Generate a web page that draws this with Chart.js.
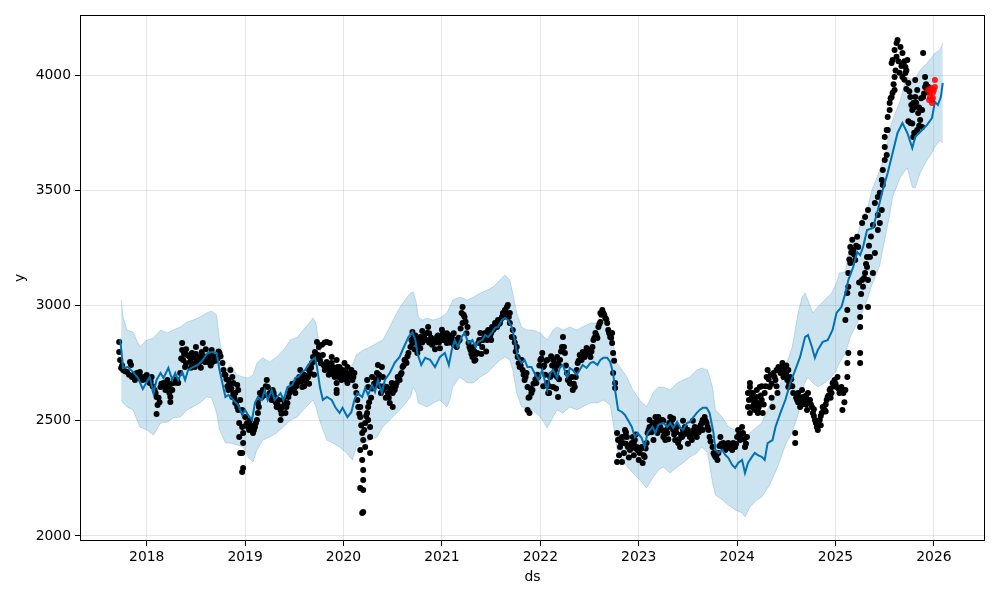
<!DOCTYPE html>
<html>
<head>
<meta charset="utf-8">
<script src="https://cdn.jsdelivr.net/npm/chart.js@4.4.0/dist/chart.umd.min.js"></script>
<style>
  html, body { margin: 0; padding: 0; background: #fff; }
  #wrap { width: 1000px; height: 600px; }
</style>
</head>
<body>
<div id="wrap"><canvas id="forecast" width="1000" height="600"></canvas></div>
<script>
const xTicks = [2018, 2019, 2020, 2021, 2022, 2023, 2024, 2025, 2026];
const yTicks = [2000, 2500, 3000, 3500, 4000];

// yhat
const fcYear = [
  2017.73, 2017.76, 2017.81, 2017.86, 2017.91, 2017.96, 2018.00, 2018.03, 2018.07, 2018.10,
  2018.14, 2018.17, 2018.22, 2018.26, 2018.29, 2018.32, 2018.36, 2018.39, 2018.42, 2018.47,
  2018.52, 2018.57, 2018.62, 2018.67, 2018.71, 2018.74, 2018.80, 2018.83, 2018.88, 2018.93,
  2018.97, 2019.00, 2019.03, 2019.07, 2019.10, 2019.13, 2019.17, 2019.20, 2019.23, 2019.27,
  2019.30, 2019.36, 2019.39, 2019.43, 2019.48, 2019.51, 2019.54, 2019.58, 2019.61, 2019.64,
  2019.68, 2019.71, 2019.73, 2019.76, 2019.79, 2019.83, 2019.88, 2019.92, 2019.96, 2019.99,
  2020.04, 2020.08, 2020.11, 2020.14, 2020.19, 2020.22, 2020.25, 2020.29, 2020.32, 2020.35,
  2020.39, 2020.42, 2020.47, 2020.52, 2020.57, 2020.60, 2020.66, 2020.70, 2020.73, 2020.75,
  2020.79, 2020.83, 2020.88, 2020.93, 2020.98, 2021.03, 2021.07, 2021.10, 2021.13, 2021.16,
  2021.20, 2021.23, 2021.27, 2021.31, 2021.34, 2021.37, 2021.41, 2021.44, 2021.47, 2021.51,
  2021.54, 2021.57, 2021.61, 2021.64, 2021.67, 2021.71, 2021.74, 2021.77, 2021.81, 2021.84,
  2021.87, 2021.91, 2021.94, 2021.98, 2022.02, 2022.05, 2022.07, 2022.10, 2022.13, 2022.17,
  2022.20, 2022.23, 2022.27, 2022.30, 2022.33, 2022.37, 2022.40, 2022.43, 2022.47, 2022.51,
  2022.54, 2022.58, 2022.61, 2022.64, 2022.68, 2022.71, 2022.74, 2022.76, 2022.79, 2022.83,
  2022.86, 2022.89, 2022.93, 2022.96, 2022.99, 2023.03, 2023.06, 2023.09, 2023.14, 2023.17,
  2023.20, 2023.25, 2023.29, 2023.32, 2023.35, 2023.39, 2023.42, 2023.45, 2023.49, 2023.52,
  2023.55, 2023.59, 2023.62, 2023.65, 2023.69, 2023.72, 2023.76, 2023.78, 2023.81, 2023.85,
  2023.88, 2023.91, 2023.95, 2023.98, 2024.01, 2024.05, 2024.08, 2024.11, 2024.15, 2024.18,
  2024.21, 2024.25, 2024.28, 2024.31, 2024.36, 2024.39, 2024.44, 2024.49, 2024.54, 2024.59,
  2024.64, 2024.69, 2024.72, 2024.76, 2024.79, 2024.82, 2024.87, 2024.92, 2024.97, 2025.01,
  2025.06, 2025.10, 2025.13, 2025.15, 2025.18, 2025.22, 2025.25, 2025.28, 2025.32, 2025.38,
  2025.43, 2025.48, 2025.53, 2025.58, 2025.63, 2025.68, 2025.73, 2025.78, 2025.81, 2025.88,
  2025.93, 2025.98, 2026.01, 2026.04, 2026.07, 2026.09
];
const fcVal = [
  2855, 2729, 2733, 2712, 2686, 2638, 2668, 2690, 2620, 2677,
  2707, 2686, 2729, 2677, 2707, 2677, 2712, 2677, 2720, 2733,
  2742, 2764, 2794, 2798, 2794, 2720, 2603, 2612, 2590, 2568,
  2525, 2547, 2525, 2503, 2577, 2603, 2590, 2633, 2590, 2633,
  2590, 2620, 2590, 2646, 2655, 2686, 2690, 2712, 2720, 2742,
  2764, 2773, 2733, 2646, 2590, 2603, 2590, 2556, 2534, 2556,
  2516, 2538, 2590, 2620, 2603, 2642, 2612, 2655, 2625, 2677,
  2620, 2677, 2707, 2751, 2777, 2807, 2863, 2885, 2850, 2794,
  2742, 2773, 2764, 2733, 2777, 2794, 2742, 2807, 2850, 2820,
  2863, 2881, 2837, 2850, 2820, 2842, 2850, 2872, 2863, 2885,
  2903, 2907, 2937, 2946, 2937, 2907, 2850, 2777, 2751, 2764,
  2733, 2733, 2707, 2677, 2720, 2664, 2633, 2707, 2720, 2686,
  2733, 2742, 2690, 2729, 2720, 2699, 2720, 2742, 2729, 2751,
  2755, 2742, 2764, 2773, 2773, 2755, 2707, 2633, 2547, 2538,
  2525, 2503, 2473, 2429, 2447, 2425, 2386, 2447, 2473, 2447,
  2482, 2490, 2473, 2490, 2469, 2495, 2473, 2460, 2490, 2495,
  2512, 2534, 2547, 2556, 2556, 2534, 2447, 2373, 2360, 2373,
  2351, 2339, 2308, 2295, 2317, 2330, 2273, 2317, 2343, 2360,
  2351, 2343, 2330, 2403, 2416, 2473, 2534, 2590, 2664, 2720,
  2777, 2863, 2872, 2820, 2773, 2807, 2842, 2850, 2894, 2968,
  2994, 3054, 3111, 3133, 3167, 3233, 3219, 3254, 3328, 3337,
  3415, 3502, 3575, 3662, 3749, 3792, 3749, 3684, 3732, 3762,
  3784, 3814, 3884, 3871, 3905, 3966
];

// yhat_upper / yhat_lower
const bandYear = [
  2017.74, 2017.76, 2017.80, 2017.86, 2017.93, 2018.00, 2018.07, 2018.14, 2018.21, 2018.27,
  2018.34, 2018.41, 2018.47, 2018.54, 2018.61, 2018.66, 2018.71, 2018.74, 2018.80, 2018.85,
  2018.92, 2018.98, 2019.03, 2019.08, 2019.12, 2019.18, 2019.25, 2019.32, 2019.39, 2019.46,
  2019.53, 2019.59, 2019.66, 2019.69, 2019.72, 2019.74, 2019.78, 2019.83, 2019.89, 2019.96,
  2020.03, 2020.09, 2020.13, 2020.20, 2020.27, 2020.34, 2020.40, 2020.47, 2020.54, 2020.60,
  2020.68, 2020.71, 2020.74, 2020.76, 2020.80, 2020.85, 2020.91, 2020.98, 2021.05, 2021.08,
  2021.11, 2021.18, 2021.26, 2021.32, 2021.39, 2021.46, 2021.52, 2021.59, 2021.64, 2021.69,
  2021.72, 2021.76, 2021.81, 2021.86, 2021.92, 2022.00, 2022.07, 2022.13, 2022.17, 2022.23,
  2022.30, 2022.37, 2022.43, 2022.51, 2022.58, 2022.64, 2022.71, 2022.74, 2022.78, 2022.83,
  2022.88, 2022.94, 2023.01, 2023.08, 2023.15, 2023.20, 2023.25, 2023.32, 2023.39, 2023.45,
  2023.52, 2023.59, 2023.64, 2023.70, 2023.75, 2023.78, 2023.85, 2023.91, 2023.98, 2024.05,
  2024.08, 2024.13, 2024.20, 2024.25, 2024.33, 2024.42, 2024.49, 2024.56, 2024.62, 2024.66,
  2024.69, 2024.72, 2024.77, 2024.82, 2024.89, 2024.96, 2025.01, 2025.04, 2025.10, 2025.15,
  2025.22, 2025.27, 2025.32, 2025.37, 2025.45, 2025.50, 2025.55, 2025.58, 2025.66, 2025.71,
  2025.73, 2025.78, 2025.81, 2025.86, 2025.93, 2025.98, 2026.01, 2026.06, 2026.09
];
const bandUpper = [
  3024, 2950, 2894, 2885, 2820, 2850, 2859, 2894, 2881, 2894,
  2907, 2929, 2937, 2950, 2968, 2976, 2959, 2850, 2720, 2742,
  2699, 2690, 2686, 2699, 2751, 2773, 2755, 2777, 2807, 2850,
  2863, 2894, 2929, 2946, 2924, 2863, 2777, 2751, 2733, 2729,
  2720, 2742, 2785, 2807, 2820, 2837, 2850, 2907, 2968, 3011,
  3054, 3059, 3011, 2950, 2937, 2946, 2937, 2946, 2968, 2994,
  3024, 3037, 3024, 3037, 3054, 3067, 3081, 3111, 3133, 3111,
  3054, 2968, 2907, 2894, 2894, 2881, 2850, 2894, 2907, 2894,
  2907, 2894, 2907, 2924, 2924, 2929, 2907, 2837, 2751, 2720,
  2690, 2633, 2590, 2560, 2625, 2646, 2646, 2633, 2664, 2677,
  2690, 2720, 2729, 2720, 2646, 2547, 2516, 2473, 2460, 2416,
  2403, 2447, 2473, 2490, 2568, 2633, 2733, 2820, 2968, 3037,
  3054, 3024, 2968, 2994, 3024, 3054, 3098, 3141, 3146, 3285,
  3298, 3384, 3415, 3501, 3588, 3645, 3762, 3805, 3892, 3979,
  3992, 3979, 3987, 4022, 4053, 4079, 4096, 4109, 4140
];
const bandLower = [
  2590, 2577, 2560, 2547, 2473, 2460, 2438, 2490, 2494, 2512,
  2516, 2547, 2560, 2577, 2603, 2599, 2534, 2460, 2403, 2403,
  2395, 2386, 2343, 2321, 2373, 2416, 2429, 2447, 2473, 2503,
  2516, 2547, 2577, 2590, 2560, 2525, 2473, 2416, 2403, 2386,
  2360, 2330, 2386, 2403, 2416, 2429, 2473, 2503, 2534, 2560,
  2603, 2646, 2620, 2577, 2568, 2560, 2577, 2590, 2560, 2590,
  2646, 2690, 2664, 2664, 2690, 2707, 2733, 2764, 2777, 2764,
  2720, 2620, 2560, 2555, 2547, 2516, 2468, 2516, 2547, 2534,
  2560, 2547, 2560, 2577, 2577, 2590, 2568, 2490, 2373, 2330,
  2304, 2273, 2243, 2208, 2256, 2286, 2299, 2273, 2299, 2317,
  2343, 2360, 2386, 2360, 2230, 2178, 2156, 2134, 2113, 2100,
  2082, 2126, 2156, 2169, 2221, 2308, 2395, 2451, 2525, 2633,
  2664, 2690, 2664, 2646, 2664, 2690, 2720, 2751, 2794, 2863,
  2924, 2968, 3024, 3089, 3176, 3285, 3393, 3471, 3558, 3588,
  3597, 3514, 3510, 3575, 3632, 3662, 3688, 3718, 3705
];

// observed y (black), outline of the clusters
const obsYear = [
  2017.72, 2017.72, 2017.73, 2017.74, 2017.76, 2017.80, 2017.83, 2017.84, 2017.85, 2017.88,
  2017.90, 2017.93, 2017.95, 2017.96, 2018.00, 2018.01, 2018.03, 2018.05, 2018.08, 2018.10,
  2018.11, 2018.10, 2018.14, 2018.17, 2018.19, 2018.21, 2018.22, 2018.24, 2018.24, 2018.26,
  2018.27, 2018.31, 2018.32, 2018.34, 2018.36, 2018.36, 2018.37, 2018.39, 2018.41, 2018.44,
  2018.46, 2018.47, 2018.49, 2018.51, 2018.54, 2018.56, 2018.57, 2018.59, 2018.61, 2018.62,
  2018.64, 2018.66, 2018.67, 2018.71, 2018.74, 2018.77, 2018.78, 2018.80, 2018.83, 2018.85,
  2018.83, 2018.87, 2018.90, 2018.93, 2018.94, 2018.94, 2018.95, 2018.97, 2018.98,
  2018.87, 2018.88, 2018.90, 2018.92, 2018.93, 2018.95, 2018.97, 2018.97, 2018.98, 2018.98,
  2018.97, 2019.00, 2019.02, 2019.03, 2019.05, 2019.07, 2019.08, 2019.10, 2019.12, 2019.13,
  2019.13, 2019.15, 2019.17, 2019.18, 2019.22, 2019.23, 2019.25, 2019.27, 2019.28, 2019.30,
  2019.32, 2019.34, 2019.36, 2019.36, 2019.38, 2019.39, 2019.41, 2019.43, 2019.44, 2019.46,
  2019.49, 2019.51, 2019.53, 2019.54, 2019.56, 2019.58, 2019.59, 2019.61, 2019.63, 2019.64,
  2019.66, 2019.68, 2019.69, 2019.71, 2019.73, 2019.74, 2019.76, 2019.79, 2019.83, 2019.83,
  2019.84, 2019.86, 2019.88, 2019.89, 2019.91, 2019.93, 2019.94, 2019.96, 2019.99, 2020.01,
  2020.03, 2020.04,
  2019.86, 2019.88, 2019.89, 2019.93, 2019.94, 2019.96, 2019.98, 2020.01, 2020.03, 2020.04,
  2020.06, 2020.08, 2020.09, 2020.11, 2019.93, 2019.93, 2020.14, 2020.17, 2020.17, 2020.19,
  2020.20, 2020.22, 2020.24, 2020.25, 2020.25, 2020.27, 2020.27, 2020.22, 2020.17, 2020.19,
  2020.20, 2020.20, 2020.20, 2020.17, 2020.20, 2020.19, 2020.27, 2020.24, 2020.25, 2020.29,
  2020.30, 2020.34, 2020.35, 2020.35, 2020.39, 2020.40, 2020.40, 2020.44, 2020.45, 2020.47,
  2020.49, 2020.50, 2020.50, 2020.52, 2020.54, 2020.55, 2020.57, 2020.59, 2020.60, 2020.62,
  2020.64, 2020.66, 2020.68, 2020.70, 2020.70, 2020.71, 2020.75, 2020.75, 2020.78, 2020.81,
  2020.85, 2020.86, 2020.88, 2020.91, 2020.95, 2020.98, 2021.01, 2021.05, 2021.07,
  2021.00, 2021.03, 2021.06, 2021.10, 2021.13, 2021.15, 2021.18, 2021.20, 2021.21, 2021.21,
  2021.23, 2021.26, 2021.27, 2021.29, 2021.31, 2021.32, 2021.34, 2021.36, 2021.37, 2021.39,
  2021.41, 2021.42, 2021.44, 2021.46, 2021.47, 2021.49, 2021.51, 2021.52, 2021.54, 2021.56,
  2021.57, 2021.59, 2021.61, 2021.62, 2021.64, 2021.66, 2021.67, 2021.69, 2021.69, 2021.71,
  2021.72, 2021.76, 2021.77, 2021.79, 2021.81, 2021.82, 2021.84, 2021.86, 2021.87, 2021.89,
  2021.87, 2021.89, 2021.92, 2021.96, 2021.98, 2022.00, 2022.02, 2022.03, 2022.07, 2022.07,
  2022.08, 2022.10, 2022.13, 2022.15, 2022.17, 2022.18, 2022.13,
  2022.15, 2022.17, 2022.20, 2022.22, 2022.23, 2022.25, 2022.27, 2022.28, 2022.30, 2022.32,
  2022.33, 2022.35, 2022.37, 2022.38, 2022.40, 2022.42, 2022.43, 2022.45, 2022.47, 2022.48,
  2022.51, 2022.53, 2022.54, 2022.56, 2022.58, 2022.59, 2022.61, 2022.61, 2022.63, 2022.64,
  2022.66, 2022.68, 2022.69, 2022.71, 2022.73, 2022.73, 2022.74, 2022.74, 2022.76, 2022.76,
  2022.78, 2022.79, 2022.81, 2022.78, 2022.83, 2022.83, 2022.84, 2022.86, 2022.88, 2022.89,
  2022.91, 2022.93, 2022.94, 2022.96, 2022.98, 2022.99, 2023.01, 2023.03, 2023.04, 2023.06,
  2023.08, 2023.09, 2023.11, 2023.14, 2023.15, 2023.17, 2023.19, 2023.20,
  2023.11, 2023.14, 2023.15, 2023.17, 2023.19, 2023.20, 2023.22, 2023.24, 2023.25, 2023.27,
  2023.29, 2023.30, 2023.32, 2023.34, 2023.35, 2023.37, 2023.39, 2023.40, 2023.42, 2023.44,
  2023.45, 2023.47, 2023.49, 2023.50, 2023.52, 2023.54, 2023.55, 2023.57, 2023.59, 2023.60,
  2023.62, 2023.64, 2023.65, 2023.67, 2023.69, 2023.70, 2023.72, 2023.75, 2023.76, 2023.78,
  2023.80, 2023.81, 2023.83, 2023.85, 2023.86, 2023.88, 2023.90, 2023.91, 2023.93, 2023.95,
  2023.96, 2023.98, 2024.00, 2024.01, 2024.03, 2024.05, 2024.06, 2024.08, 2024.10, 2024.11,
  2024.11, 2024.13, 2024.13, 2024.15, 2024.16, 2024.18, 2024.20, 2024.21, 2024.23,
  2024.13, 2024.16, 2024.18, 2024.20, 2024.21, 2024.23, 2024.25, 2024.26, 2024.28, 2024.30,
  2024.31, 2024.33, 2024.36, 2024.37, 2024.39, 2024.41, 2024.42, 2024.44, 2024.46, 2024.47,
  2024.49, 2024.51, 2024.52, 2024.54, 2024.59, 2024.59, 2024.61, 2024.62, 2024.64, 2024.66,
  2024.67, 2024.69, 2024.71, 2024.72, 2024.74, 2024.76, 2024.77, 2024.79, 2024.81, 2024.82,
  2024.84, 2024.86, 2024.87, 2024.89, 2024.91, 2024.92, 2024.94, 2024.96, 2024.97, 2024.99,
  2025.01, 2025.02, 2025.04, 2025.06, 2025.07, 2025.10, 2025.12, 2025.12, 2025.13, 2025.10,
  2025.12, 2025.12, 2025.13, 2025.13, 2025.15, 2025.15, 2025.17, 2025.18, 2025.20, 2025.22,
  2025.23, 2025.25, 2025.25, 2025.25, 2025.25, 2025.25, 2025.27, 2025.28, 2025.30, 2025.32,
  2025.33, 2025.33, 2025.32,
  2025.27, 2025.30, 2025.33, 2025.38, 2025.40, 2025.43, 2025.43, 2025.45, 2025.47, 2025.48,
  2025.48, 2025.50, 2025.52, 2025.50, 2025.52, 2025.53, 2025.55, 2025.55, 2025.57, 2025.58,
  2025.60, 2025.57, 2025.58, 2025.60, 2025.62, 2025.63, 2025.66, 2025.68, 2025.69, 2025.71,
  2025.73, 2025.71, 2025.68, 2025.60, 2025.74, 2025.76, 2025.78, 2025.79, 2025.81, 2025.83,
  2025.81, 2025.84, 2025.86, 2025.88, 2025.89, 2025.91, 2025.91, 2025.79, 2025.76, 2025.83,
  2025.88, 2025.89, 2025.93, 2025.38, 2025.40, 2025.43, 2025.45, 2025.47, 2025.50, 2025.53,
  2025.35
];
const obsVal = [
  2842, 2798, 2764, 2729, 2720, 2712, 2755, 2742, 2690, 2677,
  2707, 2712, 2690, 2677, 2699, 2677, 2664, 2690, 2633, 2603,
  2568, 2529, 2646, 2664, 2633, 2677, 2646, 2603, 2581, 2633,
  2664, 2677, 2664, 2707, 2837, 2807, 2764, 2733, 2785, 2755,
  2794, 2777, 2733, 2764, 2777, 2798, 2837, 2755, 2777, 2755,
  2785, 2807, 2755, 2777, 2794, 2751, 2720, 2699, 2677, 2720,
  2633, 2603, 2577, 2547, 2490, 2429, 2360, 2278, 2295,
  2690, 2664, 2620, 2655, 2633, 2590, 2547, 2473, 2447, 2403,
  2360, 2516, 2490, 2473, 2503, 2460, 2447, 2473, 2503, 2534,
  2577, 2620, 2603, 2633, 2677, 2646, 2620, 2590, 2633, 2603,
  2560, 2590, 2547, 2503, 2560, 2590, 2534, 2577, 2603, 2633,
  2646, 2620, 2664, 2677, 2720, 2646, 2690, 2677, 2664, 2690,
  2707, 2751, 2777, 2798, 2842, 2785, 2764, 2785, 2842, 2755,
  2733, 2720, 2751, 2712, 2690, 2633, 2733, 2707, 2720, 2690,
  2677, 2664,
  2837, 2777, 2733, 2764, 2707, 2733, 2677, 2751, 2707, 2733,
  2699, 2720, 2677, 2707, 2664, 2620, 2590, 2560, 2516, 2447,
  2416, 2490, 2534, 2560, 2503, 2473, 2429, 2386, 2373, 2330,
  2286, 2243, 2199, 2208, 2104, 2100, 2360, 2677, 2646, 2690,
  2646, 2707, 2742, 2677, 2733, 2690, 2633, 2646, 2620, 2577,
  2664, 2620, 2560, 2633, 2664, 2690, 2677, 2707, 2733, 2764,
  2751, 2794, 2820, 2837, 2885, 2863, 2850, 2794, 2863, 2850,
  2881, 2907, 2850, 2837, 2863, 2850, 2881, 2837, 2850,
  2850, 2863, 2850, 2863, 2837, 2820, 2850, 2968, 2994, 2924,
  2950, 2907, 2837, 2807, 2777, 2820, 2764, 2794, 2837, 2881,
  2820, 2850, 2881, 2850, 2894, 2863, 2907, 2894, 2924, 2907,
  2937, 2924, 2950, 2968, 2981, 2994, 3002, 2968, 2924, 2863,
  2894, 2820, 2777, 2733, 2764, 2720, 2677, 2707, 2646, 2603,
  2547, 2534, 2633, 2664, 2690, 2764, 2794, 2733, 2764, 2664,
  2620, 2690, 2764, 2720, 2777, 2603, 2646,
  2733, 2690, 2764, 2820, 2863, 2794, 2707, 2677, 2664, 2690,
  2633, 2646, 2720, 2751, 2785, 2764, 2798, 2777, 2816, 2807,
  2777, 2820, 2850, 2881, 2859, 2907, 2929, 2968, 2981, 2968,
  2946, 2924, 2894, 2863, 2881, 2837, 2794, 2707, 2664, 2642,
  2447, 2416, 2386, 2321, 2321, 2429, 2403, 2460, 2429, 2386,
  2373, 2403, 2429, 2416, 2386, 2373, 2360, 2386, 2317, 2343,
  2403, 2447, 2473, 2490, 2460, 2516, 2503, 2494,
  2503, 2460, 2416, 2490, 2447, 2516, 2473, 2503, 2429, 2416,
  2447, 2473, 2516, 2503, 2460, 2416, 2473, 2403, 2386, 2429,
  2460, 2473, 2447, 2460, 2429, 2416, 2447, 2473, 2429, 2460,
  2473, 2490, 2503, 2516, 2490, 2473, 2429, 2386, 2360, 2343,
  2330, 2360, 2429, 2386, 2403, 2373, 2386, 2403, 2386, 2373,
  2403, 2386, 2429, 2460, 2416, 2473, 2447, 2386, 2429, 2620,
  2560, 2646, 2534, 2603, 2590, 2560, 2633, 2547, 2577,
  2664, 2620, 2547, 2603, 2534, 2646, 2590, 2534, 2620, 2690,
  2720, 2646, 2560, 2707, 2677, 2620, 2733, 2707, 2751, 2733,
  2707, 2677, 2646, 2690, 2447, 2403, 2590, 2620, 2560, 2633,
  2603, 2577, 2547, 2620, 2590, 2560, 2534, 2503, 2473, 2460,
  2503, 2534, 2560, 2547, 2590, 2603, 2633, 2620, 2664, 2677,
  2646, 2690, 2620, 2646, 2547, 2633, 2690, 2751, 2794, 2937,
  2981, 3054, 3081, 3141, 3185, 3254, 3285, 3241, 3198, 3298,
  3254, 2994, 2950, 2907, 2794, 2751, 3111, 3081, 3141, 3167,
  3111, 2994, 3211,
  3358, 3384, 3415, 3350, 3445, 3393, 3471, 3489, 3545, 3523,
  3588, 3632, 3653, 3688, 3762, 3818, 3849, 3879, 3905, 3923,
  3936, 4053, 4066, 4109, 4140, 4152, 4122, 4096, 4053, 4035,
  4066, 4009, 3992, 3992, 3966, 3905, 3849, 3879, 3905, 3936,
  3979, 3836, 3805, 3849, 3905, 3949, 3992, 3732, 3792, 3762,
  3775, 4096, 3927, 3141, 3228, 3328, 3358, 3415, 3732, 3762,
  3211
];

// observed y (black), inside of the clusters, as [year, value]
const obsCore = [
  [2017.75, 2740], [2017.78, 2715], [2017.82, 2700], [2017.87, 2700], [2017.92, 2690],
  [2017.98, 2690], [2018.02, 2685], [2018.04, 2670], [2018.06, 2650], [2018.09, 2620],
  [2018.12, 2600], [2018.13, 2580], [2018.15, 2660], [2018.18, 2650], [2018.20, 2660],
  [2018.23, 2620], [2018.25, 2660], [2018.28, 2680], [2018.30, 2665], [2018.35, 2770],
  [2018.38, 2790], [2018.40, 2750], [2018.43, 2780], [2018.45, 2770], [2018.48, 2750],
  [2018.50, 2790], [2018.53, 2750], [2018.55, 2770], [2018.58, 2780], [2018.60, 2760],
  [2018.63, 2770], [2018.65, 2790], [2018.68, 2780], [2018.70, 2760], [2018.72, 2770],
  [2018.73, 2800], [2018.75, 2780], [2018.79, 2700], [2018.81, 2680], [2018.82, 2650],
  [2018.84, 2660], [2018.86, 2640], [2018.88, 2620], [2018.89, 2600], [2018.91, 2580],
  [2018.92, 2560], [2019.01, 2480], [2019.04, 2460], [2019.06, 2480], [2019.09, 2460],
  [2019.11, 2490], [2019.14, 2560], [2019.16, 2600], [2019.19, 2610], [2019.21, 2650],
  [2019.24, 2610], [2019.26, 2600], [2019.29, 2620], [2019.31, 2580], [2019.33, 2570],
  [2019.35, 2560], [2019.37, 2530], [2019.40, 2570], [2019.42, 2560], [2019.45, 2620],
  [2019.47, 2630], [2019.48, 2660], [2019.50, 2640], [2019.52, 2650], [2019.55, 2690],
  [2019.57, 2670], [2019.60, 2700], [2019.62, 2680], [2019.65, 2720], [2019.67, 2730],
  [2019.70, 2760], [2019.72, 2780], [2019.75, 2770], [2019.77, 2750], [2019.80, 2740],
  [2019.81, 2720], [2019.85, 2700], [2019.87, 2740], [2019.90, 2700], [2019.92, 2720],
  [2019.95, 2690], [2019.97, 2720], [2020.00, 2700], [2020.02, 2710], [2020.05, 2690],
  [2020.07, 2700], [2020.10, 2690], [2020.12, 2650], [2020.13, 2620], [2020.15, 2560],
  [2020.16, 2530], [2020.18, 2480], [2020.21, 2460], [2020.23, 2520], [2020.26, 2580],
  [2020.28, 2600], [2020.29, 2640], [2020.31, 2660], [2020.33, 2680], [2020.36, 2700],
  [2020.37, 2650], [2020.38, 2620], [2020.41, 2650], [2020.43, 2600], [2020.46, 2600],
  [2020.48, 2640], [2020.51, 2640], [2020.53, 2650], [2020.56, 2680], [2020.58, 2700],
  [2020.61, 2740], [2020.63, 2760], [2020.65, 2780], [2020.69, 2850], [2020.72, 2840],
  [2020.73, 2870], [2020.76, 2830], [2020.77, 2860], [2020.80, 2840], [2020.82, 2870],
  [2020.84, 2850], [2020.87, 2840], [2020.89, 2860], [2020.90, 2830], [2020.92, 2850],
  [2020.94, 2840], [2020.96, 2870], [2020.97, 2840], [2020.99, 2860], [2021.02, 2850],
  [2021.04, 2860], [2021.08, 2840], [2021.09, 2870], [2021.11, 2850], [2021.12, 2830],
  [2021.14, 2850], [2021.16, 2840], [2021.17, 2860], [2021.19, 2900], [2021.22, 2960],
  [2021.24, 2930], [2021.25, 2880], [2021.28, 2820], [2021.30, 2790], [2021.33, 2800],
  [2021.35, 2790], [2021.38, 2850], [2021.40, 2850], [2021.43, 2860], [2021.45, 2870],
  [2021.48, 2870], [2021.50, 2880], [2021.53, 2900], [2021.55, 2910], [2021.58, 2920],
  [2021.60, 2940], [2021.63, 2950], [2021.65, 2970], [2021.68, 2950], [2021.73, 2860],
  [2021.74, 2840], [2021.75, 2800], [2021.78, 2750], [2021.80, 2740], [2021.83, 2700],
  [2021.85, 2690], [2021.88, 2600], [2021.90, 2640], [2021.91, 2620], [2021.93, 2660],
  [2021.95, 2680], [2021.97, 2700], [2021.99, 2740], [2022.01, 2770], [2022.04, 2740],
  [2022.05, 2700], [2022.06, 2760], [2022.09, 2650], [2022.11, 2700], [2022.12, 2740],
  [2022.14, 2700], [2022.16, 2750], [2022.19, 2740], [2022.21, 2800], [2022.24, 2820],
  [2022.26, 2740], [2022.29, 2680], [2022.31, 2660], [2022.34, 2660], [2022.36, 2690],
  [2022.39, 2760], [2022.41, 2770], [2022.44, 2790], [2022.46, 2790], [2022.49, 2800],
  [2022.50, 2790], [2022.52, 2800], [2022.55, 2860], [2022.57, 2870], [2022.60, 2920],
  [2022.62, 2960], [2022.65, 2960], [2022.67, 2940], [2022.70, 2880], [2022.72, 2860],
  [2022.75, 2760], [2022.80, 2420], [2022.82, 2400], [2022.85, 2430], [2022.87, 2400],
  [2022.90, 2390], [2022.92, 2380], [2022.95, 2400], [2022.97, 2380], [2023.00, 2370],
  [2023.02, 2380], [2023.05, 2350], [2023.07, 2380], [2023.10, 2460], [2023.12, 2470],
  [2023.13, 2450], [2023.16, 2480], [2023.18, 2470], [2023.21, 2490], [2023.23, 2460],
  [2023.26, 2440], [2023.28, 2460], [2023.31, 2490], [2023.33, 2480], [2023.36, 2440],
  [2023.38, 2450], [2023.41, 2420], [2023.43, 2440], [2023.46, 2440], [2023.48, 2460],
  [2023.51, 2440], [2023.53, 2430], [2023.56, 2460], [2023.58, 2450], [2023.61, 2450],
  [2023.63, 2480], [2023.66, 2500], [2023.68, 2500], [2023.71, 2460], [2023.73, 2410],
  [2023.77, 2350], [2023.79, 2350], [2023.82, 2390], [2023.84, 2400], [2023.87, 2390],
  [2023.89, 2380], [2023.92, 2390], [2023.94, 2380], [2023.97, 2390], [2023.99, 2400],
  [2024.02, 2440], [2024.04, 2440], [2024.07, 2420], [2024.09, 2400], [2024.12, 2590],
  [2024.14, 2620], [2024.17, 2570], [2024.19, 2580], [2024.22, 2560], [2024.24, 2610],
  [2024.27, 2570], [2024.29, 2650], [2024.32, 2680], [2024.34, 2700], [2024.35, 2600],
  [2024.38, 2690], [2024.40, 2650], [2024.43, 2720], [2024.45, 2730], [2024.48, 2720],
  [2024.50, 2700], [2024.53, 2660], [2024.55, 2680], [2024.56, 2650], [2024.57, 2620],
  [2024.60, 2600], [2024.63, 2600], [2024.65, 2590], [2024.68, 2600], [2024.70, 2570],
  [2024.73, 2590], [2024.75, 2570], [2024.78, 2520], [2024.80, 2490], [2024.83, 2480],
  [2024.85, 2520], [2024.88, 2550], [2024.90, 2570], [2024.93, 2610], [2024.95, 2640],
  [2024.98, 2650], [2025.00, 2660], [2025.03, 2640], [2025.05, 2630], [2025.08, 2620],
  [2025.09, 2580], [2025.14, 3200], [2025.16, 3230], [2025.19, 3220], [2025.21, 3260],
  [2025.24, 3100], [2025.26, 3050], [2025.29, 3120], [2025.31, 3180], [2025.34, 3260],
  [2025.36, 3300], [2025.56, 3900], [2025.59, 3960], [2025.61, 4020], [2025.62, 4080],
  [2025.64, 4060], [2025.65, 4010], [2025.67, 4040], [2025.70, 4060], [2025.72, 4020],
  [2025.75, 3930], [2025.77, 3870], [2025.80, 3860], [2025.82, 3880], [2025.85, 3860],
  [2025.87, 3900], [2025.90, 3920], [2025.92, 3960], [2025.94, 3950], [2025.70, 3980],
  [2025.74, 3800], [2025.78, 3790], [2025.85, 3780], [2025.80, 3750], [2025.72, 3940],
  [2020.72, 2810], [2020.80, 2890], [2020.87, 2880], [2020.93, 2810], [2021.00, 2895],
  [2021.05, 2880], [2021.12, 2880], [2020.78, 2815], [2020.98, 2815], [2021.33, 2760],
  [2021.40, 2790], [2021.45, 2800], [2021.50, 2850], [2022.03, 2650], [2022.09, 2620],
  [2022.11, 2780], [2022.16, 2640], [2022.19, 2680], [2022.80, 2350], [2022.85, 2360],
  [2022.90, 2340], [2022.95, 2350], [2023.00, 2330], [2022.87, 2450], [2022.97, 2440],
  [2023.25, 2500], [2023.35, 2510], [2023.45, 2500], [2023.55, 2500], [2023.65, 2460],
  [2023.30, 2420], [2023.50, 2400], [2024.15, 2560], [2024.25, 2650], [2024.35, 2660],
  [2024.40, 2720], [2024.47, 2690], [2024.50, 2740], [2024.52, 2720], [2024.62, 2580],
  [2024.66, 2570], [2024.70, 2610], [2024.78, 2550], [2024.85, 2480], [2024.90, 2540],
  [2024.95, 2600], [2018.40, 2810], [2018.50, 2820], [2018.60, 2810], [2018.45, 2730],
  [2018.55, 2730], [2018.65, 2740], [2019.60, 2650], [2019.65, 2660], [2019.70, 2700],
  [2019.75, 2820], [2019.78, 2830], [2019.81, 2840]
];

// newest observations (red)
const newYear = [2025.94, 2025.96, 2025.98, 2025.99, 2026.01, 2026.01, 2025.98, 2025.96, 2025.99, 2026.00, 2025.95, 2025.97];
const newVal = [3936, 3905, 3892, 3923, 3979, 3949, 3879, 3923, 3901, 3936, 3892, 3944];

const toPoints = (xs, ys) => xs.map((x, i) => ({ x: x, y: ys[i] }));
const obsPoints = toPoints(obsYear, obsVal).concat(obsCore.map(p => ({ x: p[0], y: p[1] })));

const FONT = 'DejaVu Sans';
const TICK_FONT = { family: FONT, size: 13.9 };
const GRID = 'rgba(128, 128, 128, 0.2)';
const BLUE = '#0072B2';
const BAND = 'rgba(0, 114, 178, 0.2)';

Chart.defaults.font.family = FONT;
Chart.defaults.color = '#000';

// black frame round the plot area, like matplotlib spines
const frame = {
  id: 'frame',
  afterDraw(chart) {
    const { ctx, chartArea: a } = chart;
    ctx.save();
    ctx.strokeStyle = '#000';
    ctx.lineWidth = 1;
    ctx.strokeRect(Math.round(a.left) + 0.5, Math.round(a.top) + 0.5,
      Math.round(a.right - a.left) - 1, Math.round(a.bottom - a.top) - 1);
    ctx.restore();
  }
};

new Chart('forecast', {
  type: 'scatter',
  data: {
    datasets: [
      {
        label: 'y',
        data: obsPoints,
        backgroundColor: '#000',
        borderWidth: 0,
        pointRadius: 3,
        order: 3
      },
      {
        label: 'yhat',
        data: toPoints(fcYear, fcVal),
        showLine: true,
        borderColor: BLUE,
        borderWidth: 2,
        pointRadius: 0,
        fill: false,
        order: 2
      },
      {
        label: 'yhat_upper',
        data: toPoints(bandYear, bandUpper),
        showLine: true,
        borderColor: BAND,
        borderWidth: 1,
        backgroundColor: BAND,
        pointRadius: 0,
        fill: '+1',
        order: 5
      },
      {
        label: 'yhat_lower',
        data: toPoints(bandYear, bandLower),
        showLine: true,
        borderColor: BAND,
        borderWidth: 1,
        pointRadius: 0,
        fill: false,
        order: 4
      },
      {
        label: 'recent',
        data: toPoints(newYear, newVal),
        backgroundColor: 'rgba(255, 0, 0, 0.85)',
        borderWidth: 0,
        pointRadius: 3,
        order: 1
      }
    ]
  },
  options: {
    responsive: false,
    animation: false,
    devicePixelRatio: 1,
    layout: { padding: { top: 15, right: 15, left: 0, bottom: 0 } },
    plugins: {
      legend: { display: false },
      tooltip: { enabled: false }
    },
    scales: {
      x: {
        type: 'linear',
        min: 2017.322,
        max: 2026.519,
        afterBuildTicks: (s) => { s.ticks = xTicks.map(v => ({ value: v })); },
        afterFit: (s) => { s.height = 59; },
        ticks: {
          callback: (v) => String(v),
          autoSkip: false,
          maxRotation: 0,
          padding: 3,
          font: TICK_FONT,
          color: '#000'
        },
        grid: { color: GRID, lineWidth: 1, tickColor: '#000', tickLength: 5, tickWidth: 1 },
        border: { display: false },
        title: { display: true, text: 'ds', font: TICK_FONT, color: '#000', padding: { top: 0, bottom: 14 } }
      },
      y: {
        type: 'linear',
        min: 1978,
        max: 4261,
        afterBuildTicks: (s) => { s.ticks = yTicks.map(v => ({ value: v })); },
        afterFit: (s) => { s.width = 80; },
        ticks: {
          callback: (v) => String(v),
          autoSkip: false,
          padding: 4,
          font: TICK_FONT,
          color: '#000'
        },
        grid: { color: GRID, lineWidth: 1, tickColor: '#000', tickLength: 5, tickWidth: 1 },
        border: { display: false },
        title: { display: true, text: 'y', font: TICK_FONT, color: '#000', padding: { top: 12, bottom: 0 } }
      }
    }
  },
  plugins: [frame]
});
</script>
</body>
</html>
